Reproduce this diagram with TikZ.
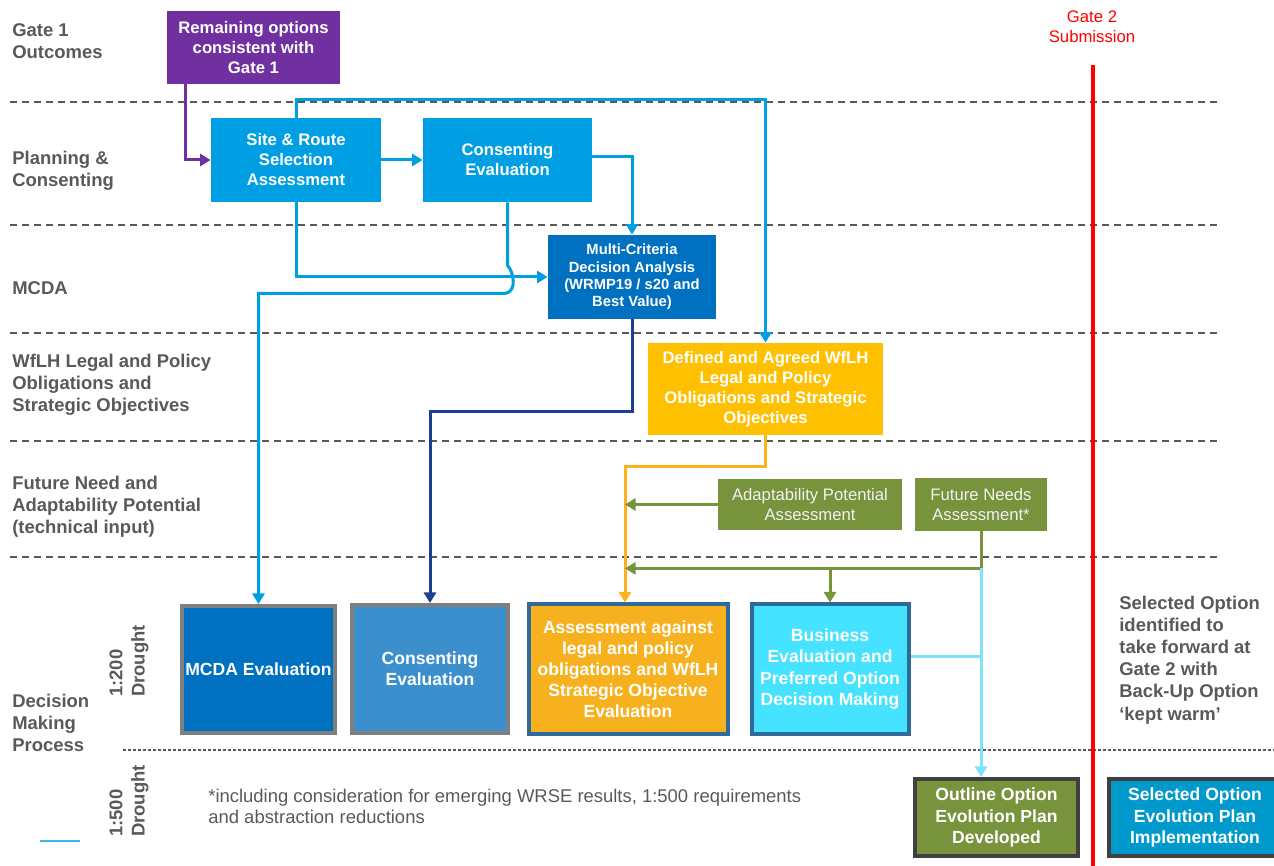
\documentclass[tikz,border=0pt]{standalone}
\usepackage{fontspec}
\setmainfont{Liberation Sans}
\usepackage{tikz}
\usetikzlibrary{arrows.meta,calc,positioning}
\definecolor{optpurple}{HTML}{7030A0}
\definecolor{planblue}{HTML}{009FE3}
\definecolor{mcdablue}{HTML}{0070C0}
\definecolor{consblue}{HTML}{3C8FCD}
\definecolor{wflhgold}{HTML}{FFC000}
\definecolor{assessgold}{HTML}{F7B11E}
\definecolor{bizcyan}{HTML}{45E3FF}
\definecolor{needgreen}{HTML}{77933C}
\definecolor{implblue}{HTML}{0099CC}
\definecolor{frameblue}{HTML}{2F6B9A}
\definecolor{framegray}{HTML}{7F7F7F}
\definecolor{framedark}{HTML}{404040}
\definecolor{labelgray}{HTML}{595959}
\definecolor{navyline}{HTML}{1F3E93}
\definecolor{goldline}{HTML}{FBB21B}
\definecolor{paleline}{HTML}{7DE2FC}
\tikzset{
    box/.style={fill=#1, text=white, align=center, inner sep=0pt,
        font=\bfseries\fontsize{9.5}{11.4}\selectfont}, % plain filled boxes
    evalbox/.style 2 args={box=#1, draw=#2, line width=0.8mm,
        font=\bfseries\fontsize{10}{12}\selectfont}, % framed boxes at the bottom
    inputbox/.style={box=needgreen, text=white!95!black,
        font=\fontsize{9.5}{11.4}\selectfont}, % technical input boxes
    lanelabel/.style={anchor=west, align=left, inner sep=0pt, text=labelgray,
        font=\bfseries\fontsize{10.5}{12.6}\selectfont}, % swimlane names
    lane/.style={draw=labelgray, line width=0.4mm, dash pattern=on 1.4mm off 1mm},
    flow/.style={line width=0.6mm, draw=#1,
        -{Triangle[length=2.1mm,width=2.4mm]}}, % connectors with a head
    link/.style={line width=0.6mm, draw=#1}, % connectors without a head
}

\begin{document}
\begin{tikzpicture}[x=0.2mm, y=-0.2mm]
    \useasboundingbox (0,0) rectangle (1274,866);
    % swimlanes
    \foreach \y in {102,225,333,441,557}
        \draw[lane] (10,\y) -- (1222,\y);
    \draw[labelgray, line width=0.3mm, dash pattern=on 0.6mm off 0.4mm] (123,750) -- (1274,750);

    \node[lanelabel] (lbl_gate1) at (12,41) {Gate 1\\Outcomes};
    \node[lanelabel] (lbl_plan) at (12,171) {Planning \&\\Consenting};
    \node[lanelabel] (lbl_mcda) at (12,288) {MCDA};
    \node[lanelabel] (lbl_wflh) at (12,384.5) {WfLH Legal and Policy\\Obligations and\\Strategic Objectives};
    \node[lanelabel] (lbl_need) at (12,507) {Future Need and\\Adaptability Potential\\(technical input)};
    \node[lanelabel] (lbl_dmp) at (12,723) {Decision\\Making\\Process};
    \node[lanelabel, anchor=center, rotate=90] (lbl_d200) at (129,661) {1:200\\Drought};
    \node[lanelabel, anchor=center, rotate=90] (lbl_d500) at (129,801) {1:500\\Drought};

    % gate 2
    \node[text=red, align=center, inner sep=0pt, font=\fontsize{9.5}{11.4}\selectfont]
        (gate2) at (1092,27) {Gate 2\\Submission};
    \draw[red, line width=0.8mm] (1093,65) -- (1093,866);

    % boxes
    \node[box=optpurple, minimum width=34.6mm, minimum height=14.6mm] (gate1_opts) at (253.5,47.5) {Remaining options\\consistent with\\Gate 1};
    \node[box=planblue, minimum width=34mm, minimum height=16.8mm] (site_route) at (296,160) {Site \& Route\\Selection\\Assessment};
    \node[box=planblue, minimum width=33.8mm, minimum height=16.8mm] (consent) at (507.5,160) {Consenting\\Evaluation};
    \node[box=mcdablue, minimum width=33.6mm, minimum height=16.8mm,
        font=\bfseries\fontsize{8.4}{9.8}\selectfont] (mcda) at (632,277) {Multi-Criteria\\Decision Analysis\\(WRMP19 / s20 and\\Best Value)};
    \node[box=wflhgold, minimum width=47mm, minimum height=18.4mm] (wflh) at (765.5,389) {Defined and Agreed WfLH\\Legal and Policy\\Obligations and Strategic\\Objectives};
    \node[inputbox, minimum width=36.8mm, minimum height=10.2mm] (adapt) at (810,504.5) {Adaptability Potential\\Assessment};
    \node[inputbox, minimum width=26.4mm, minimum height=10.6mm] (future) at (981,504.5) {Future Needs\\Assessment*};

    \node[evalbox={mcdablue}{framegray}, minimum width=30.6mm, minimum height=25.4mm] (mcda_eval) at (258.5,669.5) {MCDA Evaluation};
    \node[evalbox={consblue}{framegray}, minimum width=31.2mm, minimum height=25.6mm] (consent_eval) at (430,669) {Consenting\\Evaluation};
    \node[evalbox={assessgold}{frameblue}, minimum width=39.8mm, minimum height=25.8mm] (assess) at (628,669) {Assessment against\\legal and policy\\obligations and WfLH\\Strategic Objective\\Evaluation};
    \node[evalbox={bizcyan}{frameblue}, minimum width=31.4mm, minimum height=25.8mm] (business) at (830,669) {Business\\Evaluation and\\Preferred Option\\Decision Making};
    \node[evalbox={needgreen}{framedark}, minimum width=32.6mm, minimum height=15.4mm] (outline) at (996.5,817.5) {Outline Option\\Evolution Plan\\Developed};
    \node[evalbox={implblue}{framedark}, minimum width=34.4mm, minimum height=15.4mm] (selected) at (1195,817.5) {Selected Option\\Evolution Plan\\Implementation};

    % notes
    \node[lanelabel] (kept_warm) at (1119,660) {Selected Option\\identified to\\take forward at\\Gate 2 with\\Back-Up Option\\‘kept warm’};
    \node[anchor=west, align=left, inner sep=0pt, text=labelgray, font=\fontsize{10.5}{12}\selectfont]
        (footnote) at (208,806) {*including consideration for emerging WRSE results, 1:500 requirements\\and abstraction reductions};
    \draw[link=planblue!75, line width=0.4mm] (40,841) -- (80,841);

    % connectors
    \coordinate (assess_in) at ([xshift=-0.6mm]assess.north);
    \coordinate (need_turn) at ([yshift=-7.4mm]future.south);
    \draw[flow=optpurple] ([xshift=-13.7mm]gate1_opts.south) |- (site_route.west);
    \draw[flow=planblue] (site_route.east) -- (consent.west);
    \draw[flow=planblue] (site_route.north) -- ++(0,-18) -| (wflh.north);
    \draw[flow=planblue] (site_route.south) |- (mcda.west);
    \draw[flow=planblue] ([yshift=0.6mm]consent.east) -| (mcda.north);
    \draw[flow=planblue] (consent.south) -- ++(0,63)
        .. controls +(6,6) and +(12,-2) .. ++(-2,28) -| (mcda_eval.north);
    \draw[flow=navyline] (mcda.south) -- ++(0,92) -| (consent_eval.north);
    \draw[flow=goldline] (wflh.south) -- ++(0,31) -| (assess_in);
    \draw[flow=needgreen] (adapt.west) -- (adapt.west -| assess_in);
    \draw[flow=needgreen] (future.south) -- (need_turn) -- (need_turn -| assess_in);
    \draw[flow=needgreen] (need_turn -| business.north) -- (business.north);
    \draw[link=paleline] ([yshift=2.4mm]business.east) -- ([yshift=2.4mm]business.east -| need_turn);
    \draw[flow=paleline] (need_turn) -- (need_turn |- outline.north);
\end{tikzpicture}
\end{document}
